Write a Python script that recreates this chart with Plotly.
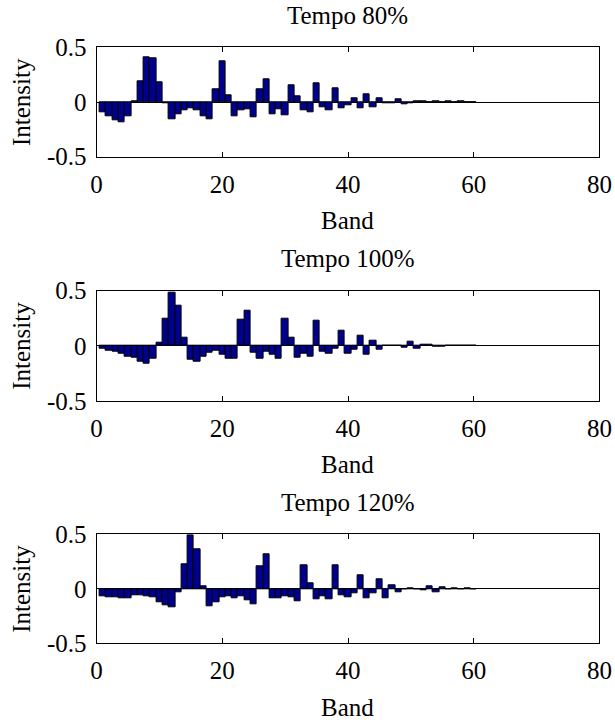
import plotly.graph_objects as go

bands = list(range(1, 61))

tempo80 = [-0.095, -0.13, -0.17, -0.19, -0.13, 0.004, 0.186, 0.41, 0.40, 0.18,
           -0.01, -0.16, -0.11, -0.08, -0.06, -0.08, -0.13, -0.16, 0.12, 0.37,
           0.06, -0.13, -0.08, -0.07, -0.14, 0.12, 0.21, -0.11, -0.064, -0.12,
           0.155, 0.055, -0.08, -0.09, 0.17, -0.05, -0.08, 0.125, -0.06, -0.03,
           0.03, -0.06, 0.075, -0.05, 0.035, -0.012, -0.012, 0.027, -0.018, -0.01,
           0.006, 0.008, -0.006, 0.004, -0.004, 0.003, -0.003, 0.002, -0.002, 0.001]

tempo100 = [-0.03, -0.04, -0.055, -0.075, -0.10, -0.11, -0.14, -0.165, -0.12, 0.03,
            0.25, 0.48, 0.36, 0.076, -0.13, -0.14, -0.10, -0.06, -0.04, -0.08,
            -0.12, -0.115, 0.24, 0.32, -0.06, -0.115, -0.05, -0.08, -0.12, 0.245,
            0.07, -0.11, -0.07, -0.10, 0.23, -0.05, -0.067, -0.03, 0.135, -0.075,
            -0.035, 0.095, -0.08, 0.045, -0.033, 0.003, 0.003, 0.001, -0.018, 0.036,
            -0.024, 0.015, 0.008, -0.012, -0.006, 0.003, 0.002, -0.002, 0.001, 0.001]

tempo120 = [-0.065, -0.077, -0.077, -0.086, -0.083, -0.06, -0.06, -0.07, -0.077, -0.12,
            -0.155, -0.17, -0.03, 0.225, 0.49, 0.36, 0.025, -0.157, -0.12, -0.074,
            -0.07, -0.083, -0.068, -0.108, -0.14, 0.21, 0.32, -0.09, -0.09, -0.07,
            -0.077, -0.117, 0.22, 0.046, -0.1, -0.07, -0.1, 0.22, -0.06, -0.08,
            -0.04, 0.12, -0.083, -0.043, 0.09, -0.083, 0.03, -0.034, -0.006, 0.006,
            -0.003, -0.018, 0.02, -0.03, 0.012, -0.004, 0.003, -0.002, 0.002, -0.001]

titles = ["Tempo 80%", "Tempo 100%", "Tempo 120%"]
series = [tempo80, tempo100, tempo120]
x_ticks = [0, 20, 40, 60, 80]
y_ticks = [-0.5, 0, 0.5]
y_ticklabels = ["-0.5", "0", "0.5"]

W, H = 615, 722
FONT = "Liberation Serif"
FS = 25

# plot areas in page pixels: (top, bottom)
areas = [(47.3, 156.7), (290.7, 401.0), (534.3, 643.3)]
x_left, x_right = 96.6, 599.4


def px(v):
    return v / W


def py(v):
    return 1 - v / H


fig = go.Figure()
annotations = []
for i, (vals, title, (top, bot)) in enumerate(zip(series, titles, areas)):
    n = i + 1
    xa = "x" if n == 1 else f"x{n}"
    ya = "y" if n == 1 else f"y{n}"
    fig.add_trace(go.Bar(
        x=bands, y=vals, width=1.0, xaxis=xa, yaxis=ya,
        marker=dict(color="#00008F", line=dict(color="black", width=1)),
        showlegend=False,
    ))
    axis_common = dict(showline=True, linecolor="black", linewidth=1, mirror="ticks",
                       ticks="inside", ticklen=5, tickcolor="black", showgrid=False,
                       automargin=False,
                       tickfont=dict(family=FONT, size=FS, color="black"))
    fig.update_layout(**{
        ("xaxis" if n == 1 else f"xaxis{n}"): dict(
            domain=[px(x_left), px(x_right)], range=[0, 80], tickvals=x_ticks,
            anchor=ya, zeroline=False, ticklabelstandoff=5, **axis_common),
        ("yaxis" if n == 1 else f"yaxis{n}"): dict(
            domain=[py(bot), py(top)], range=[-0.5, 0.5], tickvals=y_ticks,
            ticktext=y_ticklabels, anchor=xa, zeroline=True, zerolinecolor="black",
            zerolinewidth=1, ticklabelstandoff=4, **axis_common),
    })
    cx = (x_left + x_right) / 2
    annotations.append(dict(text=title, x=px(cx), y=py(top - 32), xref="paper",
                            yref="paper", showarrow=False, xanchor="center", yanchor="middle",
                            font=dict(family=FONT, size=FS, color="black")))
    annotations.append(dict(text="Band", x=px(cx), y=py(bot + 64), xref="paper",
                            yref="paper", showarrow=False, xanchor="center", yanchor="middle",
                            font=dict(family=FONT, size=FS, color="black")))
    annotations.append(dict(text="Intensity", x=px(22), y=py((top + bot) / 2),
                            xref="paper", yref="paper", showarrow=False, textangle=-90,
                            xanchor="center", yanchor="middle",
                            font=dict(family=FONT, size=FS, color="black")))

fig.update_layout(width=W, height=H, margin=dict(l=0, r=0, t=0, b=0),
                  paper_bgcolor="white", plot_bgcolor="white", bargap=0,
                  annotations=annotations)

fig.write_html("out.html", config={"displayModeBar": False},
               post_script="document.body.style.margin='0';")
